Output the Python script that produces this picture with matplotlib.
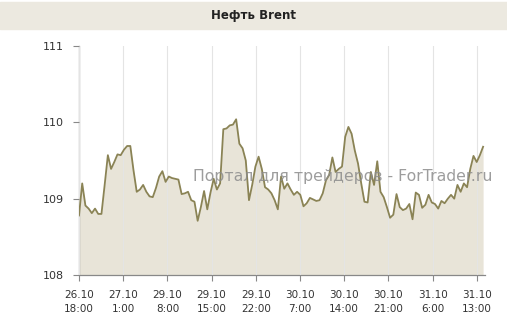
import numpy as np
import matplotlib.pyplot as plt
from matplotlib.patches import Rectangle

# Brent price, half-hourly samples
prices = [
    108.78, 109.20, 108.91, 108.87, 108.81, 108.87, 108.80, 108.80,
    109.18, 109.57, 109.39, 109.48, 109.58, 109.57, 109.64, 109.69, 109.69,
    109.37, 109.09, 109.12, 109.18, 109.09, 109.03, 109.02, 109.14,
    109.29, 109.36, 109.22, 109.29, 109.27, 109.26, 109.25, 109.06,
    109.07, 109.09, 108.98, 108.96, 108.71, 108.89, 109.10, 108.86,
    109.08, 109.26, 109.12, 109.20, 109.91, 109.92, 109.96, 109.97,
    110.04, 109.72, 109.66, 109.50, 108.98, 109.18, 109.42,
    109.55, 109.39, 109.15, 109.12, 109.07, 108.98, 108.86, 109.29,
    109.13, 109.20, 109.12, 109.05, 109.09, 109.05, 108.90, 108.94,
    109.01, 108.99, 108.97, 108.98, 109.07, 109.24, 109.31, 109.54,
    109.35, 109.39, 109.42, 109.81, 109.94, 109.85, 109.63, 109.46,
    109.20, 108.96, 108.95, 109.35, 109.18, 109.49, 109.09, 109.02,
    108.89, 108.75, 108.79, 109.06, 108.89, 108.85, 108.87, 108.93,
    108.73, 109.08, 109.05, 108.88, 108.92, 109.05, 108.95, 108.93,
    108.87, 108.97, 108.94, 109.00, 109.05, 109.00, 109.18, 109.09,
    109.20, 109.15, 109.39, 109.56, 109.48, 109.57, 109.68,
]
span_hours = 64
tick_hours = [0, 7, 14, 21, 28, 35, 42, 49, 56, 63]
tick_labels = ['26.10\n18:00', '27.10\n1:00', '29.10\n8:00', '29.10\n15:00',
               '29.10\n22:00', '30.10\n7:00', '30.10\n14:00', '30.10\n21:00',
               '31.10\n6:00', '31.10\n13:00']
y_ticks = [108, 109, 110, 111]

hours = np.linspace(0, span_hours, len(prices))

fig = plt.figure(figsize=(5.07, 3.31), dpi=100)
fig.patches.append(Rectangle((0, 1 - 29 / 331), 1, 27 / 331, transform=fig.transFigure,
                             color='#ece9e0', zorder=0))
fig.text(0.5, 1 - 16 / 331, 'Нефть Brent', ha='center', va='center',
         fontsize=8.5, fontweight='bold', color='#222222')

ax = fig.add_axes([79 / 507, 1 - 275 / 331, 406 / 507, 229 / 331])
ax.fill_between(hours, 108, prices, color='#e8e4d8', zorder=1, linewidth=0)
ax.plot(hours, prices, color='#8a8355', linewidth=1.3, zorder=3)

ax.set_xlim(0, span_hours + 0.3)
ax.set_ylim(108, 111)
ax.set_xticks(tick_hours)
ax.set_xticklabels(tick_labels, fontsize=7.5, color='#333333', linespacing=1.45)
ax.set_yticks(y_ticks)
ax.set_yticklabels([str(v) for v in y_ticks], fontsize=8, color='#333333')
ax.tick_params(axis='both', direction='out', length=4, color='#888888', width=0.8)
ax.tick_params(axis='x', pad=7)
ax.tick_params(axis='y', pad=7)

ax.grid(axis='x', color='#e4e4e4', linewidth=0.8, zorder=2)
ax.set_axisbelow(False)
for s in ['top', 'right']:
    ax.spines[s].set_visible(False)
for s in ['left', 'bottom']:
    ax.spines[s].set_color('#888888')
    ax.spines[s].set_linewidth(0.9)

fig.text(343 / 507, 1 - 176 / 331, 'Портал для трейдеров - ForTrader.ru',
         ha='center', va='center', fontsize=11.3, color='#8c8c8c', alpha=0.85, zorder=5)

fig.savefig('out.png', dpi=100)
